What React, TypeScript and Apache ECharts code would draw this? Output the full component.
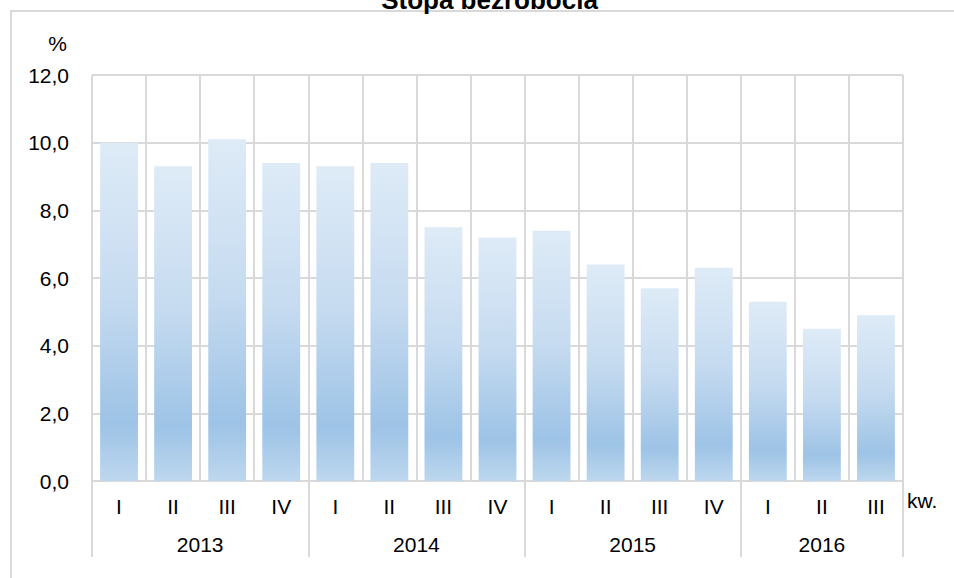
import React, { useEffect, useRef } from "react";
import * as echarts from "echarts";

const quarters = ["I", "II", "III", "IV", "I", "II", "III", "IV", "I", "II", "III", "IV", "I", "II", "III"];
const values = [10.0, 9.3, 10.1, 9.4, 9.3, 9.4, 7.5, 7.2, 7.4, 6.4, 5.7, 6.3, 5.3, 4.5, 4.9];
const years = ["2013", "2014", "2015", "2016"];
const quartersPerYear = [4, 4, 4, 3];
const yTicks = { min: 0, max: 12, interval: 2 };
const title = "Stopa bezrobocia";
const yUnit = "%";
const xUnit = "kw.";

const FONT = "'Liberation Sans', Arial, sans-serif";
const GRID = "#d9d9d9";

export default function App() {
  const ref = useRef<HTMLDivElement>(null);
  useEffect(() => {
    document.body.style.margin = "0";
    if (!ref.current) return;
    const chart = echarts.init(ref.current, undefined, { renderer: "svg" });

    const bounds: number[] = [0];
    const centers: number[] = [];
    const centerLabel: Record<string, string> = {};
    quartersPerYear.forEach((n, i) => {
      const start = bounds[bounds.length - 1];
      const c = start + n / 2;
      centers.push(c);
      centerLabel[String(c)] = years[i];
      bounds.push(start + n);
    });
    const total = bounds[bounds.length - 1];

    const gradient = new echarts.graphic.LinearGradient(0, 0, 0, 1, [
      { offset: 0, color: "#deebf7" },
      { offset: 0.45, color: "#c6dbf0" },
      { offset: 0.83, color: "#9dc3e6" },
      { offset: 1, color: "#bdd7ee" },
    ]);

    chart.setOption({
      animation: false,
      textStyle: { fontFamily: FONT },
      grid: { left: 92, right: 51, top: 75, bottom: 97, containLabel: false },
      xAxis: [
        {
          type: "category",
          data: quarters,
          position: "bottom",
          axisLine: { show: true, lineStyle: { color: GRID, width: 2 } },
          axisTick: { show: false },
          axisLabel: { margin: 15, fontSize: 21, color: "#000", fontFamily: FONT, interval: 0 },
          splitLine: { show: true, interval: 0, lineStyle: { color: GRID, width: 2 } },
        },
        {
          type: "value",
          min: 0,
          max: total,
          position: "bottom",
          axisLine: { show: false },
          splitLine: { show: false },
          axisTick: {
            show: true,
            customValues: bounds,
            length: 76,
            lineStyle: { color: GRID, width: 2 },
          },
          axisLabel: {
            show: true,
            customValues: centers,
            margin: 53,
            fontSize: 21,
            color: "#000",
            fontFamily: FONT,
            formatter: (v: number) => centerLabel[String(v)] ?? "",
          },
        },
      ],
      yAxis: {
        type: "value",
        min: yTicks.min,
        max: yTicks.max,
        interval: yTicks.interval,
        axisLine: { show: false },
        axisTick: { show: false },
        axisLabel: {
          margin: 23,
          fontSize: 21,
          color: "#000",
          fontFamily: FONT,
          formatter: (v: number) => v.toFixed(1).replace(".", ","),
        },
        splitLine: { show: true, lineStyle: { color: GRID, width: 2 } },
      },
      series: [
        {
          type: "bar",
          xAxisIndex: 0,
          data: values,
          barCategoryGap: "30%",
          itemStyle: { color: gradient },
        },
      ],
      graphic: [
        {
          type: "rect",
          shape: { x: 11, y: 11, width: 2000, height: 2000 },
          style: { fill: "none", stroke: GRID, lineWidth: 2 },
          silent: true,
          z: -1,
        },
        {
          type: "text",
          x: 489.5,
          y: 0,
          style: {
            text: title,
            fontSize: 26,
            fontWeight: "bold",
            fontFamily: FONT,
            fill: "#000",
            align: "center",
            verticalAlign: "middle",
          },
        },
        {
          type: "text",
          x: 57.5,
          y: 43,
          style: { text: yUnit, fontSize: 21, fontFamily: FONT, fill: "#000", align: "center", verticalAlign: "middle" },
        },
        {
          type: "text",
          x: 907,
          y: 500.5,
          style: { text: xUnit, fontSize: 21, fontFamily: FONT, fill: "#000", align: "left", verticalAlign: "middle" },
        },
      ],
    });
    return () => chart.dispose();
  }, []);
  return <div ref={ref} style={{ width: 954, height: 578 }} />;
}
